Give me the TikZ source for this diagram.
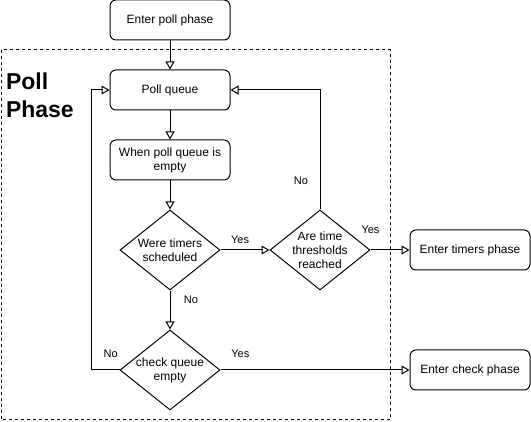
\documentclass[tikz,border=0pt]{standalone}
\usepackage{fontspec}
\setmainfont{Liberation Sans}
\usetikzlibrary{arrows.meta,shapes.geometric}

\begin{document}
\begin{tikzpicture}[x=1pt,y=-1pt,>={Triangle[open,length=8pt,width=9pt]},line width=1pt,
  box/.style={draw,rounded corners=6pt,minimum width=120pt,minimum height=40pt,
    inner sep=0pt,align=center,font=\fontsize{12}{14}\selectfont},
  choice/.style={draw,diamond,minimum width=100pt,minimum height=80pt,inner sep=0pt,
    label={[font=\fontsize{12}{14}\selectfont,align=center]center:#1}},
  tag/.style={font=\fontsize{11}{13}\selectfont,inner sep=0pt}]
\useasboundingbox (0,0) rectangle (531,422);
\draw[dash pattern=on 3pt off 3pt] (1,50) rectangle (390,420);
\node[font=\bfseries\fontsize{23}{28}\selectfont,align=left,anchor=north west,inner sep=0pt]
    (title) at (5.5,72) {Poll\\Phase};
\node[box] (enter) at (170,20) {Enter poll phase};
\node[box] (poll) at (170,90) {Poll queue};
\node[box] (empty) at (170,160) {When poll queue is\\empty};
\node[choice={Were timers\\scheduled}] (timers) at (170,250) {};
\node[choice={Are time\\thresholds\\reached}] (thresh) at (320,250) {};
\node[choice={check queue\\empty}] (check) at (170,370) {};
\node[box] (timersphase) at (470,250) {Enter timers phase};
\node[box] (checkphase) at (470,370) {Enter check phase};
\coordinate (loop) at (91,370);
\draw[->] (enter) -- (poll);
\draw[->] (poll) -- (empty);
\draw[->] (empty) -- (timers);
\draw[->] (timers) -- node[tag,pos=0.4,yshift=10pt] {Yes} (thresh);
\draw[->] (timers) -- node[tag,pos=0.225,xshift=21pt] {No} (check);
\draw[->] (thresh.north) |- node[tag,pos=0.12,xshift=-19pt] {No} (poll.east);
\draw[->] (thresh) -- node[tag,pos=0,yshift=20pt] {Yes} (timersphase);
\draw[->] (check) -- node[tag,pos=0.105,yshift=16pt] {Yes} (checkphase);
\draw[->] (check.west) -- node[tag,pos=0.31,yshift=16pt] {No} (loop) |- (poll.west);
\end{tikzpicture}
\end{document}
